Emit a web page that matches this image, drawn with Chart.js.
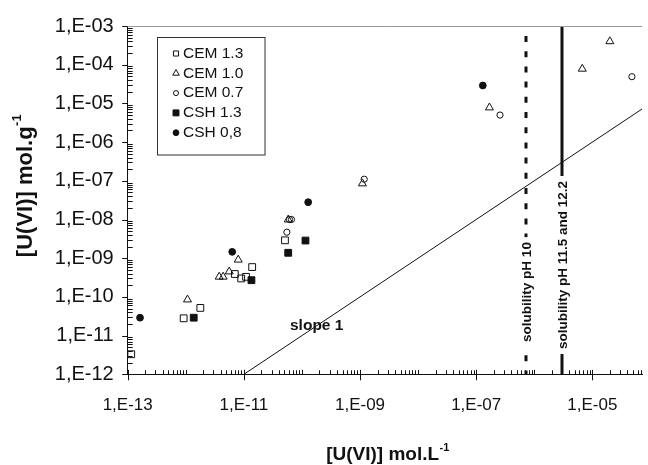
<!DOCTYPE html>
<html>
<head>
<meta charset="utf-8">
<script src="https://cdn.jsdelivr.net/npm/chart.js@4.4.0/dist/chart.umd.min.js"></script>
<style>
  html, body { margin: 0; padding: 0; background: #fff; }
  #wrap { width: 648px; height: 465px; }
</style>
</head>
<body>
<div id="wrap"><canvas id="chart"></canvas></div>
<script>
// values: x = [U(VI)] mol/L, y = [U(VI)] mol/g
const cem13X = [1.15e-13, 9.2e-13, 1.78e-12, 7.0e-12, 9.0e-12, 1.09e-11, 1.39e-11, 5.1e-11];
const cem13Y = [3.3e-12, 2.8e-11, 5.2e-11, 3.9e-10, 3.0e-10, 3.3e-10, 5.9e-10, 2.9e-9];
const cem10X = [1.07e-12, 3.76e-12, 4.4e-12, 5.6e-12, 8.0e-12, 5.8e-11, 1.1e-9, 1.69e-7, 6.7e-6, 2.0e-5];
const cem10Y = [8.5e-11, 3.3e-10, 3.3e-10, 4.5e-10, 9.1e-10, 9.9e-9, 8.5e-8, 7.8e-6, 7.8e-5, 4.0e-4];
const cem07X = [5.5e-11, 6.1e-11, 6.6e-11, 1.18e-9, 2.57e-7, 4.8e-5];
const cem07Y = [4.7e-9, 1.0e-8, 1.0e-8, 1.1e-7, 5.0e-6, 4.9e-5];
const csh13X = [1.37e-12, 1.35e-11, 5.8e-11, 1.15e-10];
const csh13Y = [2.9e-11, 2.7e-10, 1.38e-9, 2.86e-9];
const csh08X = [1.63e-13, 6.3e-12, 1.28e-10, 1.3e-7];
const csh08Y = [2.9e-11, 1.46e-9, 2.8e-8, 2.9e-5];

const seriesNames = ['CEM 1.3', 'CEM 1.0', 'CEM 0.7', 'CSH 1.3', 'CSH 0,8'];

// slope 1 reference line and the two solubility limits
const slopeX = [1e-11, 7.2e-5];
const slopeY = [1e-12, 7.2e-6];
const solubilityX = [7.2e-7, 3.0e-6];
const solubilityNames = ['solubility pH 10', 'solubility pH 11.5 and 12.2'];

const xTicks = [1e-13, 1e-11, 1e-9, 1e-7, 1e-5];
const xTickLabels = ['1,E-13', '1,E-11', '1,E-09', '1,E-07', '1,E-05'];
const yTicks = [1e-12, 1e-11, 1e-10, 1e-9, 1e-8, 1e-7, 1e-6, 1e-5, 1e-4, 1e-3];
const yTickLabels = ['1,E-12', '1,E-11', '1,E-10', '1,E-09', '1,E-08', '1,E-07', '1,E-06', '1,E-05', '1,E-04', '1,E-03'];

const xMin = 1e-13, xMax = Math.pow(10, -4.142);
const yMin = 1e-12, yMax = 1e-3;

const INK = '#111';
const FONT = '"Liberation Sans", Arial, sans-serif';

function pts(xs, ys) {
  return xs.map((x, i) => ({ x: x, y: ys[i] }));
}

const markers = [
  { pointStyle: 'rect', radius: 4.8, fill: 'rgba(0,0,0,0)' },
  { pointStyle: 'triangle', radius: 4.6, fill: 'rgba(0,0,0,0)' },
  { pointStyle: 'circle', radius: 3.1, fill: 'rgba(0,0,0,0)' },
  { pointStyle: 'rect', radius: 4.8, fill: INK },
  { pointStyle: 'circle', radius: 3.4, fill: INK }
];
const seriesData = [pts(cem13X, cem13Y), pts(cem10X, cem10Y), pts(cem07X, cem07Y), pts(csh13X, csh13Y), pts(csh08X, csh08Y)];

const datasets = seriesData.map((d, i) => ({
  type: 'scatter',
  label: seriesNames[i],
  data: d,
  pointStyle: markers[i].pointStyle,
  pointRadius: markers[i].radius,
  pointHoverRadius: markers[i].radius,
  backgroundColor: markers[i].fill,
  borderColor: INK,
  pointBorderWidth: 1,
  showLine: false
}));

datasets.push({
  type: 'line',
  label: 'slope 1',
  data: pts(slopeX, slopeY),
  borderColor: INK,
  borderWidth: 1,
  pointRadius: 0,
  fill: false
});

solubilityX.forEach((sx, i) => {
  datasets.push({
    type: 'line',
    label: solubilityNames[i],
    data: [{ x: sx, y: yMax }, { x: sx, y: yMin }],
    borderColor: INK,
    borderWidth: 3,
    borderDash: i === 0 ? [6, 9.2] : [],
    borderDashOffset: i === 0 ? 5.2 : 0,
    pointRadius: 0,
    fill: false
  });
});

function isLabelled(list, e) {
  return list.some(t => Math.abs(Math.log10(t) - e) < 1e-6);
}

// minor and major tick marks, drawn on the library's scales
const axisTicks = {
  id: 'axisTicks',
  afterDraw(chart) {
    const { ctx, chartArea: a, scales: { x, y } } = chart;
    ctx.save();
    ctx.strokeStyle = INK;
    ctx.lineWidth = 1;
    ctx.beginPath();
    for (let e = -13; e <= -4; e++) {
      for (let m = 1; m < 10; m++) {
        const v = m * Math.pow(10, e);
        if (v > xMax) break;
        const px = Math.round(x.getPixelForValue(v)) + 0.5;
        const major = m === 1 && isLabelled(xTicks, e);
        ctx.moveTo(px, a.bottom - (m === 1 ? 4.5 : 4));
        ctx.lineTo(px, a.bottom + (major ? 6 : 0));
      }
    }
    for (let e = -12; e <= -3; e++) {
      for (let m = 1; m < 10; m++) {
        const v = m * Math.pow(10, e);
        if (v > yMax) break;
        const py = Math.round(y.getPixelForValue(v)) + 0.5;
        const major = m === 1 && isLabelled(yTicks, e);
        ctx.moveTo(a.left - (major ? 5.5 : 0), py);
        ctx.lineTo(a.left + (m === 1 ? 0 : 5), py);
      }
    }
    ctx.stroke();
    // faint frame line at the top
    ctx.strokeStyle = '#9a9a9a';
    ctx.beginPath();
    ctx.moveTo(a.left, Math.round(a.top) + 0.5);
    ctx.lineTo(a.right, Math.round(a.top) + 0.5);
    ctx.stroke();
    ctx.restore();
  }
};

function drawSupTitle(ctx, main, sup, cx, cy, rot, size) {
  const supSize = Math.round(size * 0.58);
  ctx.save();
  ctx.translate(cx, cy);
  ctx.rotate(rot);
  ctx.fillStyle = INK;
  ctx.textBaseline = 'middle';
  ctx.textAlign = 'left';
  ctx.font = 'bold ' + size + 'px ' + FONT;
  const w1 = ctx.measureText(main).width;
  ctx.font = 'bold ' + supSize + 'px ' + FONT;
  const w2 = ctx.measureText(sup).width;
  const x0 = -(w1 + w2) / 2;
  ctx.font = 'bold ' + size + 'px ' + FONT;
  ctx.fillText(main, x0, 0);
  ctx.font = 'bold ' + supSize + 'px ' + FONT;
  ctx.fillText(sup, x0 + w1 + 0.5, -size * 0.37);
  ctx.restore();
}

const annotations = {
  id: 'annotations',
  afterDatasetsDraw(chart) {
    const { ctx, scales: { x, y } } = chart;
    ctx.save();
    // labels on the solubility lines
    const centers = [292, 265];
    ctx.font = 'bold 13.5px ' + FONT;
    solubilityX.forEach((sx, i) => {
      const px = x.getPixelForValue(sx);
      const w = ctx.measureText(solubilityNames[i]).width;
      ctx.fillStyle = '#fff';
      ctx.fillRect(px - 6, centers[i] - w / 2 - 5, 12, w + 10);
      ctx.save();
      ctx.translate(px, centers[i]);
      ctx.rotate(-Math.PI / 2);
      ctx.fillStyle = INK;
      ctx.textAlign = 'center';
      ctx.textBaseline = 'middle';
      ctx.fillText(solubilityNames[i], 0, 1);
      ctx.restore();
    });
    // slope label
    ctx.fillStyle = INK;
    ctx.font = 'bold 15.5px ' + FONT;
    ctx.textAlign = 'left';
    ctx.textBaseline = 'alphabetic';
    ctx.fillText('slope 1', 290, 330);
    ctx.restore();
  },
  afterDraw(chart) {
    const { ctx } = chart;
    drawSupTitle(ctx, '[U(VI)] mol.L', '-1', 387.5, 455, 0, 19);
    drawSupTitle(ctx, '[U(VI)] mol.g', '-1', 26, 186, -Math.PI / 2, 22);

    // legend box
    ctx.save();
    ctx.strokeStyle = '#333';
    ctx.lineWidth = 1;
    ctx.strokeRect(157.5, 37.5, 107.5, 117.5);
    ctx.font = '15.5px ' + FONT;
    ctx.textBaseline = 'middle';
    ctx.textAlign = 'left';
    const legendSizes = [3.6, 3.8, 2.5, 4.2, 2.9];
    seriesNames.forEach((name, i) => {
      const yy = 53.5 + i * 19.8;
      ctx.fillStyle = markers[i].fill;
      ctx.strokeStyle = INK;
      ctx.lineWidth = 1;
      Chart.helpers.drawPoint(ctx, {
        pointStyle: markers[i].pointStyle,
        radius: legendSizes[i],
        rotation: 0,
        borderWidth: 1
      }, 176, yy);
      ctx.fillStyle = INK;
      ctx.fillText(name, 183, yy);
    });
    ctx.restore();
  }
};

new Chart(document.getElementById('chart'), {
  data: { datasets: datasets },
  options: {
    responsive: true,
    maintainAspectRatio: false,
    animation: false,
    events: [],
    layout: { padding: { top: 22.7, right: 0, left: 0, bottom: 0 } },
    plugins: {
      legend: { display: false },
      tooltip: { enabled: false }
    },
    scales: {
      x: {
        type: 'logarithmic',
        position: 'bottom',
        min: xMin,
        max: xMax,
        afterBuildTicks: s => { s.ticks = xTicks.map(v => ({ value: v })); },
        afterFit: s => { s.height = 90.7; },
        grid: { display: false, drawTicks: false },
        border: { display: true, color: INK, width: 1 },
        ticks: {
          autoSkip: false,
          maxRotation: 0,
          padding: 21,
          color: INK,
          font: { family: FONT, size: 17 },
          callback: (v, i) => xTickLabels[i]
        }
      },
      y: {
        type: 'logarithmic',
        position: 'left',
        min: yMin,
        max: yMax,
        afterBuildTicks: s => { s.ticks = yTicks.map(v => ({ value: v })); },
        afterFit: s => { s.width = 127.7; },
        grid: { display: false, drawTicks: false },
        border: { display: true, color: INK, width: 1 },
        ticks: {
          autoSkip: false,
          padding: 14,
          color: INK,
          font: { family: FONT, size: 20 },
          callback: (v, i) => yTickLabels[i]
        }
      }
    }
  },
  plugins: [axisTicks, annotations]
});
</script>
</body>
</html>
